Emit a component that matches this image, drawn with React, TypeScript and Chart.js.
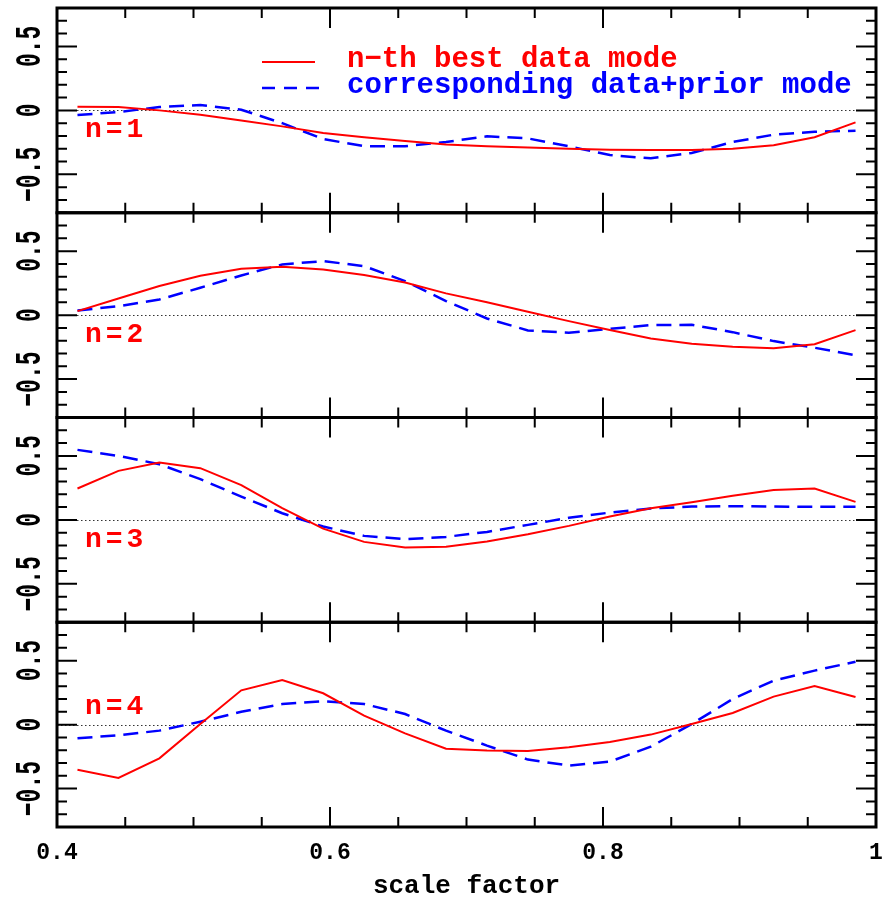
import React, { useEffect, useRef } from 'react';
import { Chart, registerables } from 'chart.js';

Chart.register(...registerables);

// ---------------- data ----------------
const scaleFactor = [0.415, 0.445, 0.475, 0.505, 0.535, 0.565, 0.595, 0.625, 0.655, 0.685, 0.715, 0.745, 0.775, 0.805, 0.835, 0.865, 0.895, 0.925, 0.955, 0.985];

const bestMode1 = [0.029, 0.026, 0.0, -0.034, -0.08, -0.125, -0.177, -0.21, -0.24, -0.266, -0.28, -0.29, -0.3, -0.307, -0.31, -0.31, -0.3, -0.273, -0.21, -0.094];
const priorMode1 = [-0.036, -0.013, 0.026, 0.042, 0.005, -0.1, -0.224, -0.28, -0.28, -0.247, -0.203, -0.219, -0.281, -0.349, -0.375, -0.333, -0.247, -0.19, -0.167, -0.159];

const bestMode2 = [0.031, 0.13, 0.227, 0.307, 0.362, 0.378, 0.357, 0.313, 0.255, 0.17, 0.1, 0.026, -0.047, -0.117, -0.182, -0.224, -0.247, -0.258, -0.227, -0.117];
const priorMode2 = [0.036, 0.07, 0.122, 0.214, 0.31, 0.396, 0.422, 0.383, 0.266, 0.11, -0.026, -0.12, -0.138, -0.107, -0.078, -0.076, -0.133, -0.203, -0.255, -0.313];

const bestMode3 = [0.245, 0.383, 0.448, 0.404, 0.271, 0.091, -0.068, -0.172, -0.216, -0.21, -0.169, -0.112, -0.047, 0.026, 0.091, 0.138, 0.188, 0.234, 0.245, 0.141];
const priorMode3 = [0.547, 0.5, 0.435, 0.318, 0.182, 0.052, -0.052, -0.125, -0.151, -0.133, -0.094, -0.039, 0.016, 0.057, 0.089, 0.104, 0.107, 0.104, 0.102, 0.102];

const bestMode4 = [-0.352, -0.417, -0.263, 0.005, 0.268, 0.349, 0.245, 0.07, -0.068, -0.188, -0.203, -0.206, -0.177, -0.135, -0.078, 0.005, 0.091, 0.219, 0.302, 0.216];
const priorMode4 = [-0.107, -0.083, -0.047, 0.023, 0.1, 0.161, 0.182, 0.161, 0.083, -0.047, -0.164, -0.273, -0.32, -0.289, -0.172, 0.005, 0.2, 0.344, 0.422, 0.492];

const bestModes = [bestMode1, bestMode2, bestMode3, bestMode4];
const priorModes = [priorMode1, priorMode2, priorMode3, priorMode4];

const panelLabels = ['n=1', 'n=2', 'n=3', 'n=4'];
const legendLabels = ['n\u2212th best data mode', 'corresponding data+prior mode'];
const xTickLabels = ['0.4', '0.6', '0.8', '1'];
const yTickValues = [0.5, 0, -0.5];
const yTickLabels = ['0.5', '0', '\u22120.5'];
const xAxisTitle = 'scale factor';

// ---------------- styling ----------------
const FAMILY = '"Liberation Mono", monospace';
const RED = '#ff0000';
const BLUE = '#0000ff';
const panelIds = ['y1', 'y2', 'y3', 'y4'];

const decorPlugin = {
  id: 'decor',
  beforeDatasetsDraw(chart: any) {
    const { ctx, chartArea } = chart;
    ctx.save();
    ctx.strokeStyle = '#333';
    ctx.lineWidth = 1;
    ctx.setLineDash([1.5, 2.5]);
    panelIds.forEach((id) => {
      const y0 = Math.round(chart.scales[id].getPixelForValue(0)) + 0.5;
      ctx.beginPath();
      ctx.moveTo(chartArea.left, y0);
      ctx.lineTo(chartArea.right, y0);
      ctx.stroke();
    });
    ctx.restore();
  },
  afterDatasetsDraw(chart: any) {
    const { ctx, chartArea } = chart;
    const xs = chart.scales.x;
    const L = chartArea.left;
    const R = chartArea.right;
    ctx.save();
    ctx.strokeStyle = '#000';
    ctx.setLineDash([]);
    panelIds.forEach((id, p) => {
      const ys = chart.scales[id];
      const T = ys.top;
      const B = ys.bottom;
      ctx.lineWidth = 2;
      ctx.beginPath();
      for (let k = 0; k <= 12; k++) {
        const px = xs.getPixelForValue(0.4 + k * 0.05);
        const len = k % 4 === 0 ? 20 : 10;
        ctx.moveTo(px, T);
        ctx.lineTo(px, T + len);
        ctx.moveTo(px, B);
        ctx.lineTo(px, B - len);
      }
      for (let k = -8; k <= 8; k++) {
        const py = ys.getPixelForValue(k / 10);
        const len = k % 5 === 0 ? 20 : 10;
        ctx.moveTo(L, py);
        ctx.lineTo(L + len, py);
        ctx.moveTo(R, py);
        ctx.lineTo(R - len, py);
      }
      ctx.stroke();
      ctx.lineWidth = 3;
      ctx.strokeRect(L, T, R - L, B - T);

      // rotated y tick labels
      ctx.fillStyle = '#000';
      ctx.font = `bold 23px ${FAMILY}`;
      ctx.textAlign = 'center';
      ctx.textBaseline = 'middle';
      yTickValues.forEach((v, i) => {
        const py = ys.getPixelForValue(v);
        ctx.save();
        ctx.translate(31, py);
        ctx.rotate(-Math.PI / 2);
        ctx.scale(1, 1.6);
        ctx.fillText(yTickLabels[i], 0, 0);
        ctx.restore();
      });

      // panel label
      ctx.save();
      ctx.fillStyle = RED;
      ctx.font = `bold 28px ${FAMILY}`;
      (ctx as any).letterSpacing = '4px';
      ctx.textAlign = 'left';
      ctx.textBaseline = 'alphabetic';
      const ly = p === 3 ? 0.085 : -0.21;
      ctx.fillText(panelLabels[p], xs.getPixelForValue(0.4205), ys.getPixelForValue(ly));
      ctx.restore();
    });
    ctx.restore();
  },
  afterDraw(chart: any) {
    const { ctx } = chart;
    ctx.save();
    // legend samples
    ctx.lineWidth = 2;
    ctx.strokeStyle = RED;
    ctx.setLineDash([]);
    ctx.beginPath();
    ctx.moveTo(262, 62);
    ctx.lineTo(315, 62);
    ctx.stroke();
    ctx.lineWidth = 2.5;
    ctx.strokeStyle = BLUE;
    ctx.setLineDash([13, 9]);
    ctx.beginPath();
    ctx.moveTo(262, 88);
    ctx.lineTo(320, 88);
    ctx.stroke();
    ctx.setLineDash([]);
    ctx.font = `bold 29px ${FAMILY}`;
    ctx.textAlign = 'left';
    ctx.textBaseline = 'alphabetic';
    ctx.fillStyle = RED;
    ctx.fillText(legendLabels[0], 347, 67);
    ctx.fillStyle = BLUE;
    ctx.fillText(legendLabels[1], 347, 93);
    ctx.restore();
  },
};

export default function App() {
  const canvasRef = useRef<HTMLCanvasElement | null>(null);

  useEffect(() => {
    const canvas = canvasRef.current;
    if (!canvas) return;

    const datasets: any[] = [];
    panelIds.forEach((id, i) => {
      datasets.push({
        label: legendLabels[0],
        data: scaleFactor.map((x, j) => ({ x, y: bestModes[i][j] })),
        borderColor: RED,
        backgroundColor: RED,
        borderWidth: 2,
        pointRadius: 0,
        tension: 0,
        fill: false,
        yAxisID: id,
        xAxisID: 'x',
      });
      datasets.push({
        label: legendLabels[1],
        data: scaleFactor.map((x, j) => ({ x, y: priorModes[i][j] })),
        borderColor: BLUE,
        backgroundColor: BLUE,
        borderWidth: 2.5,
        borderDash: [15, 8],
        pointRadius: 0,
        tension: 0,
        fill: false,
        yAxisID: id,
        xAxisID: 'x',
      });
    });

    const scales: any = {
      x: {
        type: 'linear',
        position: 'bottom',
        min: 0.4,
        max: 1,
        grid: { display: false, drawTicks: false },
        border: { display: false },
        afterFit: (scale: any) => {
          scale.paddingRight = 0;
          scale.paddingLeft = 0;
          scale.height = 75;
        },
        ticks: {
          stepSize: 0.2,
          padding: 12,
          color: '#000',
          font: { family: FAMILY, size: 23, weight: 'bold' },
          maxRotation: 0,
          autoSkip: false,
          callback: (v: number) => {
            const i = Math.round((v - 0.4) / 0.2);
            return xTickLabels[i] ?? '';
          },
        },
        title: {
          display: true,
          text: xAxisTitle,
          color: '#000',
          font: { family: FAMILY, size: 26, weight: 'bold' },
          padding: { top: 5, bottom: 0 },
        },
      },
    };
    panelIds.forEach((id, i) => {
      scales[id] = {
        type: 'linear',
        position: 'left',
        stack: 'panels',
        stackWeight: 1,
        weight: 4 - i,
        min: -0.8,
        max: 0.8,
        display: true,
        grid: { display: false, drawTicks: false },
        border: { display: false },
        ticks: { display: false },
      };
    });

    const chart = new Chart(canvas, {
      type: 'line',
      data: { datasets },
      options: {
        animation: false,
        responsive: false,
        maintainAspectRatio: false,
        events: [],
        layout: { padding: { left: 57, right: 6, top: 8, bottom: 1 } },
        plugins: {
          legend: { display: false },
          tooltip: { enabled: false },
          title: { display: false },
        },
        scales,
      },
      plugins: [decorPlugin],
    } as any);

    return () => chart.destroy();
  }, []);

  return (
    <div style={{ position: 'absolute', left: 0, top: 0, width: 882, height: 903, background: '#fff' }}>
      <canvas ref={canvasRef} width={882} height={903} style={{ display: 'block' }} />
    </div>
  );
}
